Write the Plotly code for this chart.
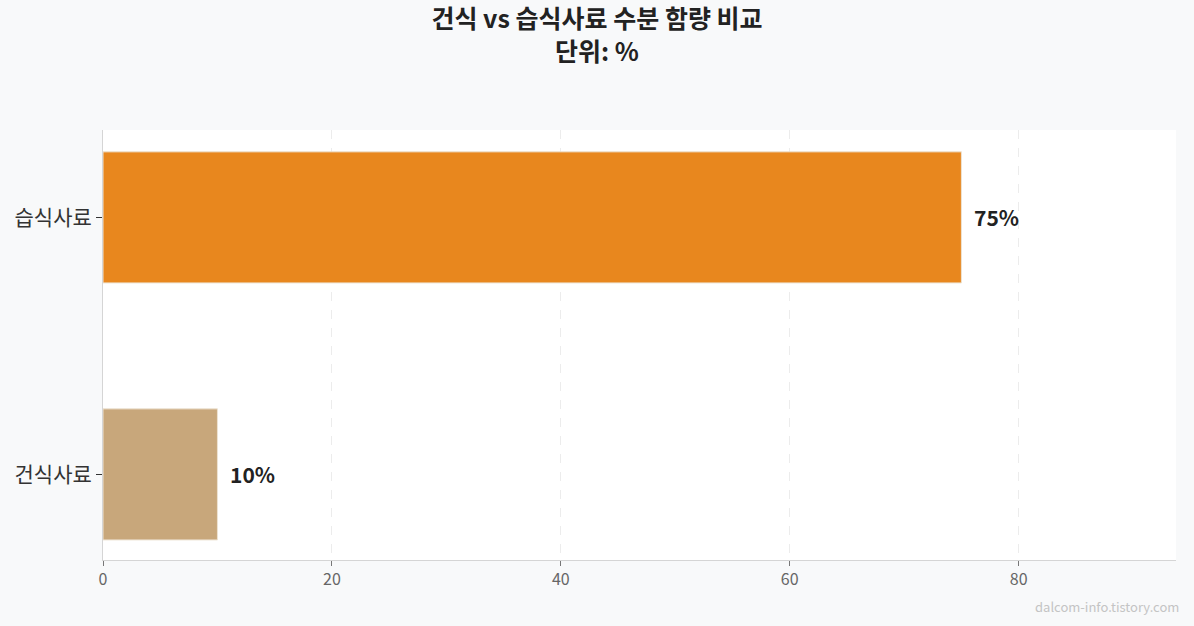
import plotly.graph_objects as go

categories = ["건식사료", "습식사료"]
moisture = [10, 75]
bar_colors = ["#C8A77B", "#E8871E"]
labels = [f"{v}%" for v in moisture]

font = "Noto Sans CJK KR"

fig = go.Figure(
    go.Bar(
        x=moisture,
        y=categories,
        orientation="h",
        width=0.51,
        marker=dict(color=bar_colors, line=dict(color="#EDE3D3", width=1)),
        hoverinfo="skip",
    )
)

# value labels next to the bars
for cat, val, lab in zip(categories, moisture, labels):
    fig.add_annotation(
        x=val, y=cat, text=f"<b>{lab}</b>", showarrow=False,
        xanchor="left", xshift=11,
        font=dict(family=font, size=21, color="#222222"),
    )

fig.add_annotation(
    text="dalcom-info.tistory.com",
    xref="paper", yref="paper", x=1.005, y=-0.109,
    xanchor="right", yanchor="middle", showarrow=False,
    font=dict(family=font, size=13, color="#C4C4C4"),
)

fig.update_layout(
    width=1194,
    height=626,
    paper_bgcolor="#F8F9FA",
    plot_bgcolor="#FFFFFF",
    font=dict(family=font, color="#333333"),
    title=dict(
        text="<b>건식 vs 습식사료 수분 함량 비교<br>단위: %</b>",
        x=0.5,
        xanchor="center",
        y=0.955,
        yanchor="middle",
        font=dict(family=font, size=25, color="#222222"),
    ),
    margin=dict(l=103, r=18, t=130, b=66),
    showlegend=False,
    xaxis=dict(
        range=[0, 93.75],
        tickvals=[0, 20, 40, 60, 80],
        showgrid=True,
        gridcolor="#ECECEC",
        griddash="dash",
        gridwidth=1,
        zeroline=False,
        showline=True,
        linecolor="#D5D5D5",
        ticks="outside",
        ticklen=5,
        tickcolor="#777777",
        tickfont=dict(family=font, size=16, color="#666666"),
    ),
    yaxis=dict(
        range=[-0.333, 1.34],
        showgrid=False,
        zeroline=False,
        showline=True,
        linecolor="#D5D5D5",
        ticks="outside",
        ticklen=6,
        tickcolor="#333333",
        tickfont=dict(family=font, size=21, color="#333333"),
    ),
)

fig.write_html(
    "out.html",
    config={"displayModeBar": False},
    post_script="document.body.style.margin='0';document.body.style.background='#F8F9FA';",
)
